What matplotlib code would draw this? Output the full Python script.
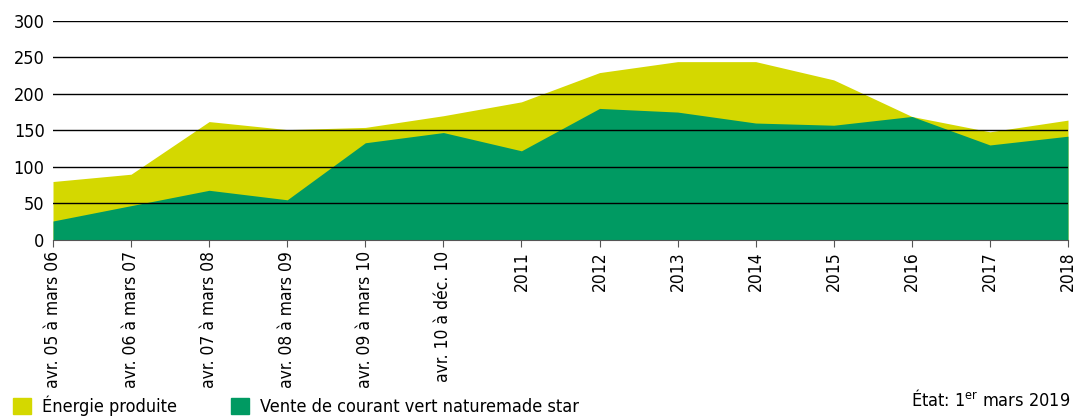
import matplotlib.pyplot as plt
from matplotlib.patches import Patch

labels = ['avr. 05 à mars 06', 'avr. 06 à mars 07', 'avr. 07 à mars 08', 'avr. 08 à mars 09',
          'avr. 09 à mars 10', 'avr. 10 à déc. 10', '2011', '2012', '2013', '2014',
          '2015', '2016', '2017', '2018']
energie = [80, 90, 162, 151, 154, 170, 189, 229, 244, 244, 219, 169, 148, 164]
vente = [26, 47, 68, 55, 133, 147, 122, 180, 175, 160, 157, 169, 130, 142]

plt.rcParams['font.family'] = ['DejaVu Sans']
plt.rcParams['font.stretch'] = 'condensed'
plt.rcParams['mathtext.fontset'] = 'dejavusans'

yellow = '#d4d800'
green = '#009a62'

fig = plt.figure(figsize=(10.77, 4.18), dpi=100)
ax = fig.add_axes([53 / 1077, 1 - 240 / 418, (1068 - 53) / 1077, (240 - 20.7) / 418])

x = list(range(len(labels)))
ax.fill_between(x, energie, color=yellow, lw=0, zorder=1)
ax.fill_between(x, vente, color=green, lw=0, zorder=2)

ax.set_xlim(0, len(labels) - 1)
ax.set_ylim(0, 300)
ax.set_yticks(range(0, 301, 50))
for v in range(50, 301, 50):
    ax.axhline(v, color='black', lw=1, zorder=3)

ax.set_xticks(x)
ax.set_xticklabels(labels, rotation=90, fontsize=12.5)
ax.tick_params(axis='x', length=5, color='#555555', pad=3)
ax.tick_params(axis='y', length=0, labelsize=13, pad=6)
for s in ['top', 'right', 'left']:
    ax.spines[s].set_visible(False)
ax.spines['bottom'].set_color('#555555')
ax.spines['bottom'].set_zorder(4)

handles = [Patch(color=yellow, label='Énergie produite'),
           Patch(color=green, label='Vente de courant vert naturemade star')]
fig.legend(handles=handles, loc='lower left', bbox_to_anchor=(0.0, -0.025), ncol=2,
           frameon=False, fontsize=13, handlelength=1.0, handleheight=1.0,
           handletextpad=0.6, columnspacing=3.0, borderaxespad=0.3)

fig.text(0.994, 0.02, r'État: 1$^{\mathrm{er}}$ mars 2019', ha='right', va='bottom', fontsize=13)

fig.savefig('out.png', dpi=100)
